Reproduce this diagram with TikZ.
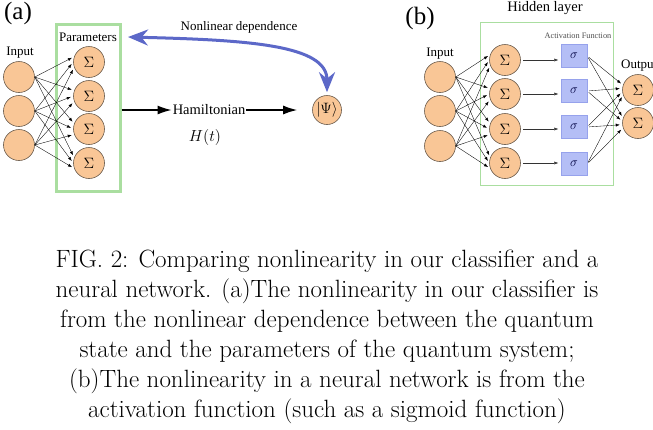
\RequirePackage{fix-cm}
\documentclass[tikz,border=0pt]{standalone}
\usepackage{fontspec}
\usepackage{amsmath}
\newfontfamily\tms{Liberation Serif}
\usetikzlibrary{arrows.meta, positioning, calc}

\definecolor{neuronfill}{RGB}{249,198,150}
\definecolor{neurondraw}{RGB}{105,90,75}
\definecolor{boxgreen}{RGB}{170,222,160}
\definecolor{actblue}{RGB}{180,190,246}
\definecolor{actdraw}{RGB}{150,162,236}
\definecolor{depblue}{RGB}{92,104,200}

\tikzset{
  neuron/.style={draw=neurondraw, fill=neuronfill, circle, minimum size=31pt, inner sep=0pt, line width=0.6pt, font=\fontsize{15}{18}\selectfont},
  actbox/.style={draw=actdraw, fill=actblue, minimum width=26pt, minimum height=23pt, inner sep=0pt, font=\fontsize{13}{15}\selectfont, text=black!75!blue},
  link/.style={-{Latex[length=4pt,width=3pt]}, line width=0.35pt, shorten >=2.5pt},
  flow/.style={-{Latex[length=14pt,width=9pt]}, line width=1.4pt},
  lbl/.style={font=\tms\fontsize{13}{15}\selectfont, inner sep=1pt},
}

\begin{document}
\begin{tikzpicture}[x=1pt, y=-1pt]
  \useasboundingbox (0,0) rectangle (653,429);

  % (a) quantum classifier
  \node[font=\tms\fontsize{25}{28}\selectfont] (alabel) at (18,13) {(a)};
  \node[draw=boxgreen, line width=3pt, minimum width=64pt, minimum height=167pt] (abox) at (88,107.5) {};
  \node[lbl] (params) at (88,37) {Parameters};
  \node[lbl] (ainput) at (20,53) {Input};

  \foreach \i/\y in {1/77,2/111,3/145}
    \node[neuron] (ain\i) at (19,\y) {};
  \foreach \j/\y in {1/62,2/96,3/129,4/163}
    \node[neuron] (asum\j) at (89,\y) {$\Sigma$};
  \foreach \i in {1,2,3}
    \foreach \j in {1,...,4}
      \draw[link] (ain\i.east) -- (asum\j.{180-(2-\i)*20});

  \node[lbl, font=\tms\fontsize{14.5}{17}\selectfont] (ham) at (209,110) {Hamiltonian};
  \node[font=\fontsize{16}{19}\selectfont] (hamt) at (205,137) {$H(t)$};
  \node[neuron, minimum size=29pt] (psi) at (327,110) {$|\Psi\rangle$};
  \draw[flow] (abox.east |- ham) -- (ham.west);
  \draw[flow, shorten >=15pt] (ham.east) -- (psi.west);

  \node[lbl] (nonlin) at (239,27) {Nonlinear dependence};
  \coordinate (depend) at (128,37);
  \draw[depblue, line width=3pt, {Stealth[length=20pt,width=16pt]}-{Stealth[length=20pt,width=16pt]}, shorten >=3pt]
    (depend) .. controls +(122,3) and +(0,-50) .. (psi.north);

  % (b) neural network
  \node[font=\tms\fontsize{25}{28}\selectfont] (blabel) at (420,18) {(b)};
  \node[lbl, font=\tms\fontsize{14.5}{17}\selectfont] (hidden) at (545,8) {Hidden layer};
  \node[draw=boxgreen, line width=0.9pt, minimum width=133pt, minimum height=163pt] (bbox) at (546.5,103.5) {};
  \node[lbl, font=\tms\fontsize{8.3}{10}\selectfont, text=black!70] (actlabel) at (578,36) {Activation Function};
  \node[lbl] (binput) at (440,54) {Input};
  \node[lbl, anchor=west] (boutput) at (620,66) {Output};

  \foreach \i/\y in {1/77,2/111,3/146}
    \node[neuron] (bin\i) at (440,\y) {};
  \foreach \j/\y/\s in {1/60/56,2/94/91,3/129/127,4/163/164}
  {
    \node[neuron] (bsum\j) at (505,\y) {$\Sigma$};
    \node[actbox] (act\j) at (574,\s) {$\sigma$};
    \draw[link, black!80, shorten <=2pt] (bsum\j.east) -- (act\j.west |- bsum\j.east);
  }
  \foreach \k/\y in {1/90,2/123}
    \node[neuron] (out\k) at (638,\y) {$\Sigma$};

  \foreach \i in {1,2,3}
    \foreach \j in {1,...,4}
      \draw[link] (bin\i.east) -- (bsum\j.{180-(2-\i)*20});
  \foreach \j in {1,...,4}
    \foreach \k in {1,2}
      \draw[link, shorten <=2pt] (act\j.east) -- (out\k.{180-(2.5-\j)*12});

  % caption
  \node[font=\fontsize{25}{30}\selectfont, align=center, inner sep=0pt] (caption) at (327,337)
    {FIG. 2: Comparing nonlinearity in our classifier and a\\
     neural network. (a)The nonlinearity in our classifier is\\
     from the nonlinear dependence between the quantum\\
     state and the parameters of the quantum system;\\
     (b)The nonlinearity in a neural network is from the\\
     activation function (such as a sigmoid function)};
\end{tikzpicture}
\end{document}
